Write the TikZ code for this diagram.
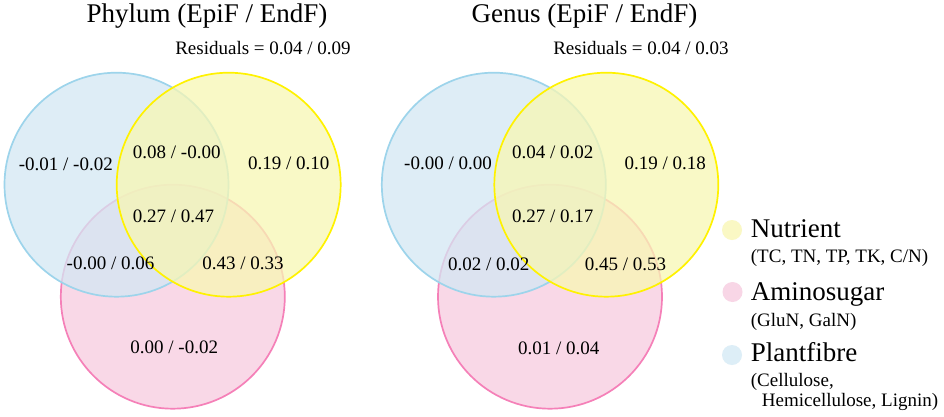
\documentclass[tikz,border=0pt]{standalone}
\usepackage{fontspec}
\setmainfont{Liberation Serif}
\definecolor{bluebase}{HTML}{D3E8F4}
\definecolor{yellowbase}{HTML}{F8F7B3}
\definecolor{pinkbase}{HTML}{F7CBE0}
\definecolor{bluestroke}{HTML}{9DD4EB}
\definecolor{yellowstroke}{HTML}{FFF200}
\definecolor{pinkstroke}{HTML}{F580B8}
\definecolor{bluedot}{HTML}{DDEEF7}
\definecolor{yellowdot}{HTML}{FAF8C4}
\definecolor{pinkdot}{HTML}{F8D6E6}
\begin{document}
\begin{tikzpicture}[x=1pt,y=-1pt,
  venn/.style={circle, minimum size=224pt, inner sep=0pt, line width=1.7pt, fill opacity=0.75},
  num/.style={anchor=base, inner sep=0pt, font=\fontsize{19}{19}\selectfont},
  ttl/.style={anchor=base, inner sep=0pt, font=\fontsize{27}{27}\selectfont},
  legdot/.style={circle, minimum size=20pt, inner sep=0pt},
  leghead/.style={anchor=base west, inner sep=0pt, font=\fontsize{27}{27}\selectfont},
  legsub/.style={anchor=base west, inner sep=0pt, font=\fontsize{19}{19}\selectfont}]
\useasboundingbox (0,0) rectangle (944,416);
\fill[white] (0,0) rectangle (944,416);

% ---- Left diagram: Phylum ----
\node[venn, fill=pinkbase, draw=pinkstroke] (pL) at (172.8,296.7) {};
\node[venn, fill=bluebase, draw=bluestroke] (bL) at (116.5,184.7) {};
\node[venn, fill=yellowbase, draw=yellowstroke] (yL) at (228.7,184.7) {};

\node[ttl] (titleL) at (207,22.7) {Phylum (EpiF / EndF)};
\node[num] (resL) at (263,54.3) {Residuals = 0.04 / 0.09};

\node[num] (aL) at (65.8,170) {-0.01 / -0.02};
\node[num] (abL) at (176.7,158) {0.08 / -0.00};
\node[num] (bbL) at (288.7,169.6) {0.19 / 0.10};
\node[num] (abcL) at (173.5,222.3) {0.27 / 0.47};
\node[num] (acL) at (110.5,269.5) {-0.00 / 0.06};
\node[num] (bcL) at (243,269.5) {0.43 / 0.33};
\node[num] (cL) at (174.2,353.4) {0.00 / -0.02};

% ---- Right diagram: Genus ----
\node[venn, fill=pinkbase, draw=pinkstroke] (pR) at (550,296.7) {};
\node[venn, fill=bluebase, draw=bluestroke] (bR) at (493.8,184.7) {};
\node[venn, fill=yellowbase, draw=yellowstroke] (yR) at (606.3,184.7) {};

\node[ttl] (titleR) at (584.5,22.7) {Genus (EpiF / EndF)};
\node[num] (resR) at (641,54.3) {Residuals = 0.04 / 0.03};

\node[num] (aR) at (448,169.5) {-0.00 / 0.00};
\node[num] (abR) at (552.8,158.3) {0.04 / 0.02};
\node[num] (bbR) at (665.3,169.5) {0.19 / 0.18};
\node[num] (abcR) at (552.8,222.7) {0.27 / 0.17};
\node[num] (acR) at (488.8,270) {0.02 / 0.02};
\node[num] (bcR) at (625.5,270) {0.45 / 0.53};
\node[num] (cR) at (558.7,354) {0.01 / 0.04};

% ---- Legend ----
\node[legdot, fill=yellowdot] (dY) at (732,230) {};
\node[leghead] (hY) at (750.7,237.3) {Nutrient};
\node[legsub] (sY) at (750.7,262.3) {(TC, TN, TP, TK, C/N)};

\node[legdot, fill=pinkdot] (dP) at (732.5,292) {};
\node[leghead] (hP) at (750.7,300.7) {Aminosugar};
\node[legsub] (sP) at (750.7,326.7) {(GluN, GalN)};

\node[legdot, fill=bluedot] (dB) at (732,355) {};
\node[leghead] (hB) at (750.7,361) {Plantfibre};
\node[legsub] (sB1) at (750.7,386.7) {(Cellulose,};
\node[legsub] (sB2) at (761.7,406.7) {Hemicellulose, Lignin)};
\end{tikzpicture}
\end{document}
